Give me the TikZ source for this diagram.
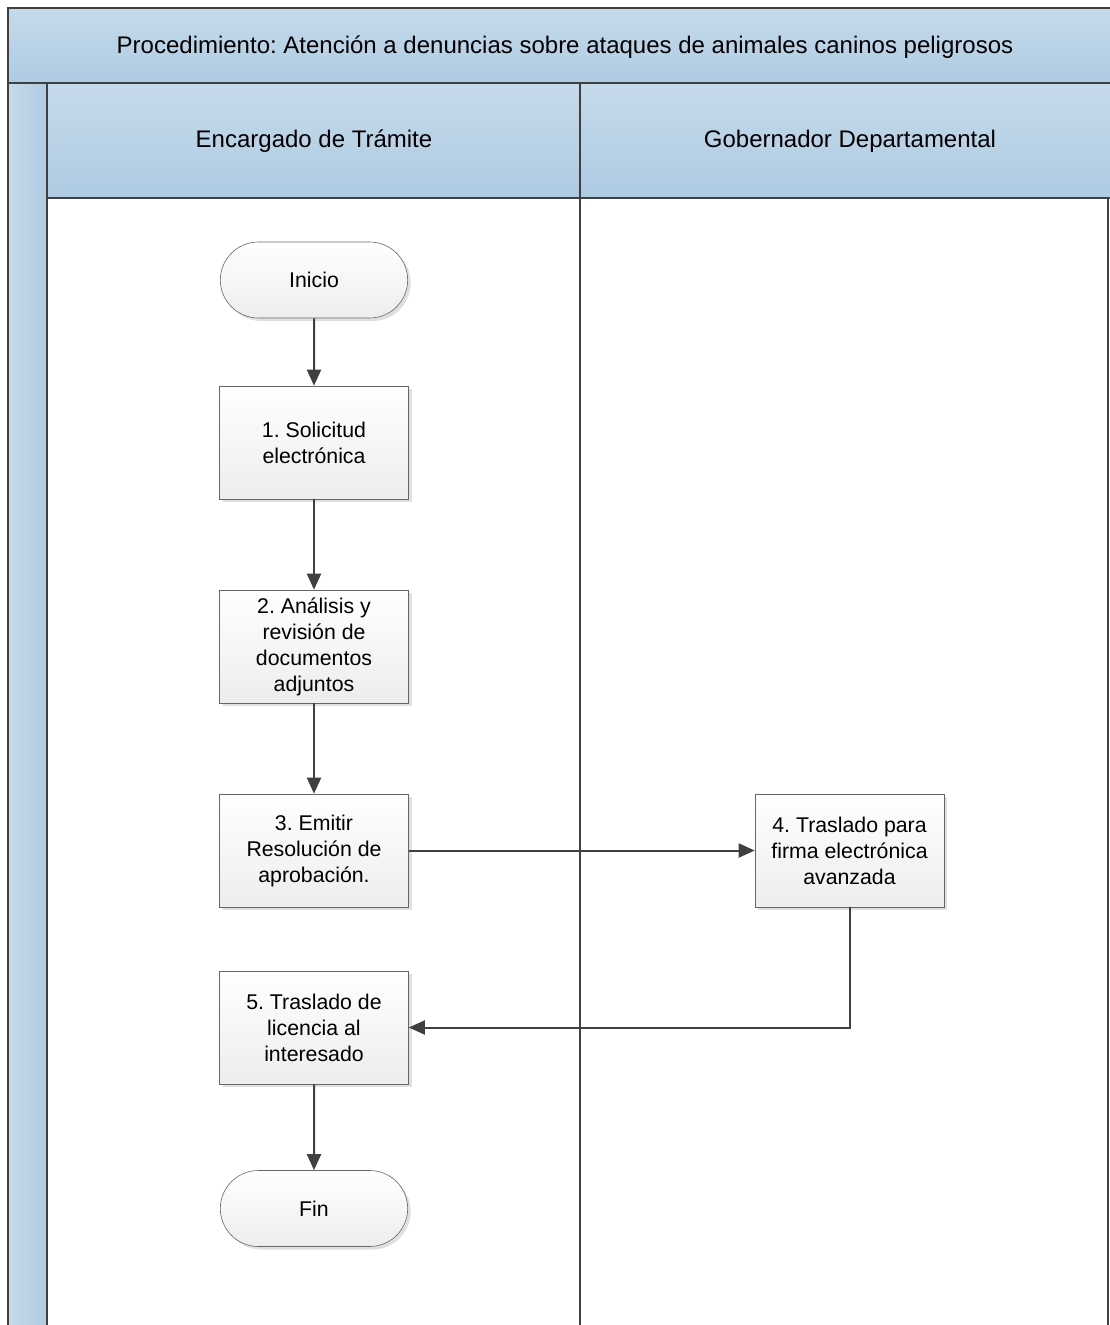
\documentclass[tikz,border=0pt]{standalone}
\usepackage{fontspec}
\setmainfont{Liberation Sans}
\frenchspacing
\usetikzlibrary{arrows.meta,shapes.misc,shadows}
\definecolor{hdrtop}{HTML}{C6DAEB}
\definecolor{hdrbot}{HTML}{AECBE2}
\definecolor{edge}{HTML}{404040}
\definecolor{boxbot}{HTML}{EDEDED}
\begin{document}
\begin{tikzpicture}[x=1pt,y=-1pt,
  hdr/.style={draw=edge,line width=1.6pt,top color=hdrtop,bottom color=hdrbot},
  stepbox/.style={draw=edge!80,line width=0.6pt,top color=white,bottom color=boxbot,
    minimum width=189pt,minimum height=113pt,align=center,
    font=\fontsize{21.3}{26}\selectfont,
    drop shadow={shadow xshift=3pt,shadow yshift=-3pt,fill=black,opacity=0.12}},
  term/.style={draw=edge!80,line width=0.6pt,rounded rectangle,top color=white,bottom color=boxbot,
    minimum width=194pt,minimum height=76pt,font=\fontsize{21.3}{26}\selectfont,
    drop shadow={shadow xshift=3pt,shadow yshift=-3pt,fill=black,opacity=0.12}},
  conn/.style={draw=edge,line width=2pt,-{Triangle[length=16pt,width=14pt]}}]
\useasboundingbox (0,0) rectangle (1109,1325);
% title band
\path[hdr] (8,8) rectangle (1112,83);
\node[font=\fontsize{24}{28}\selectfont] (title) at (565,47) {Procedimiento: Atención a denuncias sobre ataques de animales caninos peligrosos};
% left strip
\path[draw=edge,line width=1.6pt,left color=hdrtop,right color=hdrbot] (8,83) rectangle (47,1330);
% lane headers
\path[hdr] (47,83) rectangle (580,198);
\path[hdr] (580,83) rectangle (1112,198);
\node[font=\fontsize{24}{28}\selectfont] (lane1) at (314,141) {Encargado de Trámite};
\node[font=\fontsize{24}{28}\selectfont] (lane2) at (850,141) {Gobernador Departamental};
% lane bodies
\draw[edge,line width=1.6pt] (580,198) -- (580,1330);
\draw[edge,line width=1.6pt] (1108,198) -- (1108,1330);
% nodes
\node[term] (inicio) at (314,280) {Inicio};
\node[stepbox] (s1) at (314,442.5) {1. Solicitud\\electrónica};
\node[stepbox] (s2) at (314,646.5) {2. Análisis y\\revisión de\\documentos\\adjuntos};
\node[stepbox] (s3) at (314,850.5) {3. Emitir\\Resolución de\\aprobación.};
\node[stepbox] (s4) at (849.5,850.5) {4. Traslado para\\firma electrónica\\avanzada};
\node[stepbox] (s5) at (314,1027.5) {5. Traslado de\\licencia al\\interesado};
\node[term] (fin) at (314,1208.5) {Fin};
% connectors
\draw[conn] (inicio) -- (s1);
\draw[conn] (s1) -- (s2);
\draw[conn] (s2) -- (s3);
\draw[conn] (s3.east) -- (s4.west);
\draw[conn] (s4.south) |- (s5.east);
\draw[conn] (s5) -- (fin);
\end{tikzpicture}
\end{document}
